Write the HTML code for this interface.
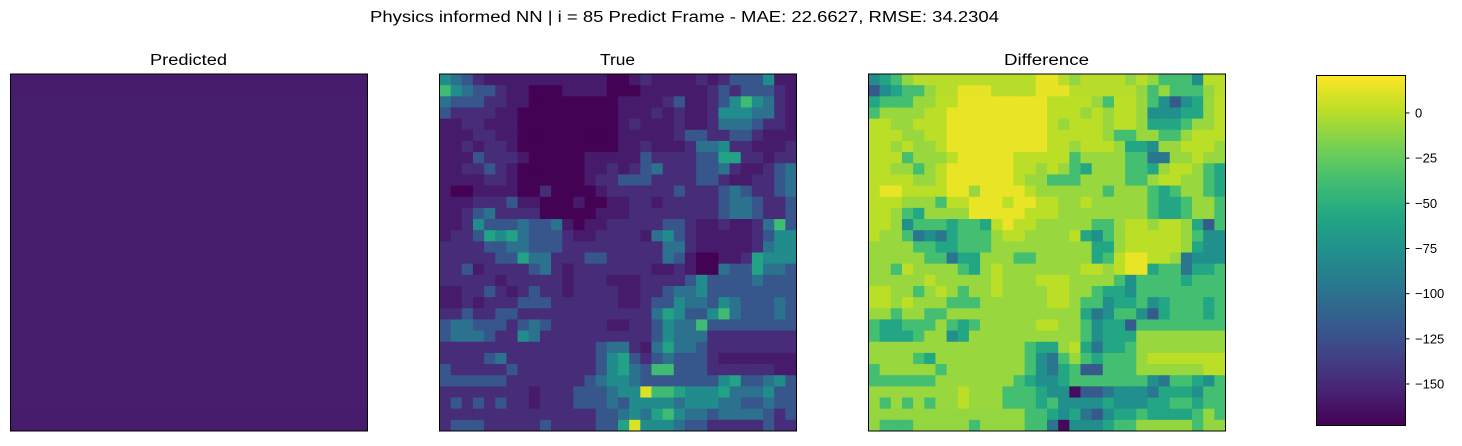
<!DOCTYPE html>
<html><head><meta charset="utf-8">
<style>
body{margin:0;background:#fff;width:1462px;height:441px;overflow:hidden;font-family:"Liberation Sans",sans-serif;}
</style></head>
<body>
<svg id="fig" width="1462" height="441" xmlns="http://www.w3.org/2000/svg">
<text x="370" y="22" font-size="15.5" textLength="629" lengthAdjust="spacingAndGlyphs" fill="#000">Physics informed NN | i = 85 Predict Frame - MAE: 22.6627, RMSE: 34.2304</text>
<text x="150" y="65" font-size="15.5" textLength="77" lengthAdjust="spacingAndGlyphs">Predicted</text>
<text x="600" y="65" font-size="15.5" textLength="35" lengthAdjust="spacingAndGlyphs">True</text>
<text x="1004" y="65" font-size="15.5" textLength="85" lengthAdjust="spacingAndGlyphs">Difference</text>
<g id="panels"></g>
<g id="cbar"></g>
</svg>
<script>
const vmin = -172.7, vmax = 21;
const cbarTicks = [0, -25, -50, -75, -100, -125, -150];
const predRow = [-158,-158,-157,-157,-157,-157,-157,-157,-157,-157,-157,-157,-157,-157,-157,-157,-157,-157,-157,-157,-157,-157,-157,-157,-157,-157,-157,-157,-157,-157,-158,-158];
const trueVals = [
[-80,-100,-120,-148,-158,-158,-158,-158,-158,-158,-158,-158,-158,-158,-158,-172,-172,-158,-148,-158,-158,-158,-158,-148,-158,-148,-120,-120,-120,-80,-158,-158],
[-40,-80,-100,-120,-120,-148,-158,-158,-172,-172,-172,-158,-158,-158,-158,-172,-172,-172,-158,-158,-158,-158,-158,-158,-148,-120,-148,-120,-120,-120,-148,-158],
[-100,-120,-120,-120,-148,-148,-158,-158,-172,-172,-172,-172,-172,-172,-172,-172,-158,-158,-158,-158,-148,-120,-158,-158,-148,-120,-80,-40,-80,-100,-148,-158],
[-120,-148,-148,-148,-148,-158,-158,-172,-172,-172,-172,-172,-172,-172,-172,-172,-158,-158,-158,-148,-158,-148,-158,-158,-148,-80,-80,-80,-100,-100,-148,-158],
[-158,-158,-148,-148,-158,-158,-158,-172,-172,-172,-172,-172,-172,-172,-172,-172,-158,-148,-158,-158,-158,-148,-158,-158,-148,-100,-100,-100,-120,-148,-148,-158],
[-158,-158,-158,-148,-148,-158,-158,-172,-172,-172,-172,-172,-172,-172,-172,-172,-158,-158,-158,-158,-158,-148,-120,-120,-148,-148,-120,-120,-148,-158,-158,-158],
[-158,-158,-148,-158,-148,-148,-158,-172,-172,-172,-172,-172,-172,-172,-172,-172,-158,-158,-148,-158,-158,-158,-148,-100,-100,-80,-148,-148,-158,-158,-158,-148],
[-158,-158,-158,-120,-148,-148,-148,-158,-172,-172,-172,-172,-172,-158,-158,-158,-158,-158,-120,-148,-148,-148,-148,-120,-120,-60,-60,-148,-148,-158,-148,-148],
[-158,-158,-148,-148,-120,-148,-158,-172,-172,-172,-172,-172,-172,-158,-158,-148,-158,-148,-120,-100,-148,-148,-148,-120,-120,-100,-148,-158,-158,-148,-120,-100],
[-158,-158,-158,-158,-148,-148,-158,-172,-172,-172,-172,-172,-172,-158,-148,-148,-120,-120,-120,-148,-148,-148,-148,-120,-120,-148,-158,-158,-148,-148,-120,-100],
[-158,-172,-172,-158,-158,-158,-158,-172,-172,-148,-172,-172,-172,-172,-158,-148,-148,-148,-148,-148,-148,-120,-148,-148,-148,-120,-100,-120,-148,-148,-120,-100],
[-158,-158,-158,-148,-148,-148,-120,-158,-158,-172,-172,-172,-158,-172,-172,-158,-158,-148,-148,-158,-148,-148,-148,-148,-148,-120,-100,-100,-120,-148,-148,-120],
[-158,-158,-148,-120,-100,-148,-148,-148,-148,-172,-172,-172,-172,-172,-158,-158,-158,-148,-148,-148,-148,-148,-148,-148,-148,-120,-100,-100,-120,-148,-148,-120],
[-158,-158,-148,-80,-120,-120,-120,-100,-120,-120,-100,-158,-172,-158,-158,-148,-148,-148,-148,-148,-120,-120,-148,-158,-158,-148,-158,-158,-148,-100,-40,-120],
[-158,-148,-148,-120,-60,-80,-60,-100,-120,-120,-120,-148,-158,-158,-148,-148,-148,-148,-158,-100,-80,-120,-148,-158,-158,-158,-158,-158,-148,-120,-80,-80],
[-148,-148,-148,-148,-120,-120,-100,-100,-120,-120,-120,-148,-148,-148,-148,-148,-148,-148,-148,-148,-100,-100,-148,-158,-158,-158,-158,-158,-148,-100,-80,-80],
[-148,-148,-148,-148,-148,-120,-120,-60,-100,-100,-148,-148,-148,-120,-120,-148,-148,-148,-148,-148,-100,-120,-158,-172,-172,-158,-158,-148,-60,-80,-80,-80],
[-148,-148,-120,-158,-148,-148,-148,-148,-120,-100,-148,-158,-148,-148,-148,-148,-148,-148,-148,-158,-158,-148,-158,-172,-172,-100,-120,-120,-60,-100,-100,-120],
[-148,-148,-148,-148,-148,-158,-148,-148,-148,-148,-148,-158,-148,-148,-148,-158,-158,-158,-148,-148,-148,-148,-120,-80,-120,-120,-120,-120,-100,-120,-120,-120],
[-158,-158,-148,-148,-120,-148,-158,-148,-120,-148,-148,-158,-148,-148,-148,-148,-158,-158,-148,-148,-120,-100,-100,-80,-120,-120,-120,-120,-120,-120,-120,-120],
[-158,-158,-148,-158,-148,-148,-148,-120,-120,-120,-148,-148,-148,-148,-148,-148,-158,-158,-148,-120,-120,-80,-100,-100,-120,-80,-100,-120,-120,-120,-100,-120],
[-148,-148,-120,-148,-148,-120,-120,-148,-148,-148,-148,-148,-148,-148,-148,-148,-148,-148,-148,-100,-60,-80,-120,-120,-80,-40,-100,-120,-120,-120,-100,-120],
[-120,-100,-100,-120,-120,-120,-148,-120,-100,-120,-148,-148,-148,-148,-148,-158,-158,-148,-148,-120,-80,-100,-100,-40,-120,-120,-120,-120,-120,-120,-120,-120],
[-120,-100,-100,-100,-120,-148,-148,-80,-100,-148,-148,-148,-148,-148,-148,-148,-148,-148,-148,-120,-80,-100,-100,-100,-148,-148,-148,-148,-148,-148,-148,-148],
[-148,-148,-148,-148,-148,-148,-148,-148,-148,-148,-148,-148,-148,-148,-120,-100,-100,-148,-158,-100,-60,-100,-100,-120,-148,-148,-148,-148,-148,-148,-148,-148],
[-148,-148,-148,-148,-120,-100,-148,-148,-148,-148,-148,-148,-148,-148,-120,-80,-60,-120,-148,-120,-100,-120,-120,-120,-148,-158,-158,-158,-158,-158,-158,-158],
[-120,-148,-148,-148,-148,-148,-120,-148,-148,-148,-148,-148,-148,-148,-120,-80,-60,-100,-120,-40,-40,-120,-120,-120,-148,-148,-148,-148,-148,-148,-158,-158],
[-120,-120,-120,-120,-120,-120,-148,-148,-148,-148,-148,-148,-148,-120,-100,-80,-80,-100,-120,-120,-120,-120,-120,-120,-120,-80,-60,-120,-120,-100,-80,-120],
[-148,-148,-148,-148,-148,-148,-148,-148,-158,-148,-148,-148,-120,-120,-120,-100,-80,-80,10,-40,-40,-60,-80,-80,-80,-60,-100,-100,-100,-80,-120,-120],
[-148,-120,-148,-120,-148,-120,-148,-148,-158,-148,-148,-148,-120,-120,-120,-100,-120,-80,-80,-80,-80,-100,-80,-80,-80,-100,-100,-120,-120,-100,-120,-120],
[-148,-148,-148,-148,-148,-148,-148,-148,-148,-148,-148,-148,-148,-148,-120,-120,-100,-80,-100,-60,-40,-80,-100,-100,-120,-100,-100,-100,-100,-120,-148,-120],
[-148,-120,-120,-120,-148,-148,-148,-148,-148,-120,-148,-148,-148,-148,-120,-120,-60,10,-80,-80,-80,-100,-120,-120,-148,-148,-148,-148,-148,-120,-148,-148]
];
const VIR=[[68,1,84],[72,35,116],[64,67,135],[52,94,141],[41,120,142],[32,144,140],[34,167,132],[68,190,112],[121,209,81],[189,222,38],[253,231,37]];
function cmap(v){let t=(v-vmin)/(vmax-vmin);t=Math.max(0,Math.min(1,t))*10;const i=Math.min(9,Math.floor(t)),f=t-i;const a=VIR[i],b=VIR[i+1];return`rgb(${Math.round(a[0]+(b[0]-a[0])*f)},${Math.round(a[1]+(b[1]-a[1])*f)},${Math.round(a[2]+(b[2]-a[2])*f)})`;}
const NS='http://www.w3.org/2000/svg';
const panels=document.getElementById('panels');
const size=357, top0=74;
function drawPanel(x0,name,valFn){
  const g=document.createElementNS(NS,'g');
  
  
  const n=trueVals.length, cs=size/n;
  for(let r=0;r<n;r++)for(let c=0;c<trueVals[r].length;c++){
    const re=document.createElementNS(NS,'rect');
    re.setAttribute('x',(x0+c*cs).toFixed(2));re.setAttribute('y',(top0+r*cs).toFixed(2));
    re.setAttribute('width',(cs+0.5).toFixed(2));re.setAttribute('height',(cs+0.5).toFixed(2));
    re.setAttribute('fill',cmap(valFn(r,c)));
    
    
    g.appendChild(re);
  }
  const fr=document.createElementNS(NS,'rect');
  fr.setAttribute('x',x0);fr.setAttribute('y',top0);fr.setAttribute('width',size);fr.setAttribute('height',size);
  fr.setAttribute('fill','none');fr.setAttribute('stroke','#000');fr.setAttribute('stroke-width','1');
  
  
  g.appendChild(fr);
  panels.appendChild(g);
}
drawPanel(10.5,'predicted-heatmap',(r,c)=>predRow[r]);
drawPanel(439.5,'true-heatmap',(r,c)=>trueVals[r][c]);
drawPanel(868.5,'difference-heatmap',(r,c)=>predRow[r]-trueVals[r][c]);
const cb=document.getElementById('cbar');
const cbx=1316,cby=75,cbw=89,cbh=350;
const ys=v=>cby+(vmax-v)/(vmax-vmin)*cbh;
for(let i=0;i<175;i++){
  const v=vmax-(i+0.5)/175*(vmax-vmin);
  const re=document.createElementNS(NS,'rect');
  re.setAttribute('x',cbx);re.setAttribute('y',(cby+i*cbh/175).toFixed(2));re.setAttribute('width',cbw);re.setAttribute('height',(cbh/175+0.6).toFixed(2));
  re.setAttribute('fill',cmap(v));
  
  
  cb.appendChild(re);
}
const cf=document.createElementNS(NS,'rect');
cf.setAttribute('x',cbx+0.5);cf.setAttribute('y',cby+0.5);cf.setAttribute('width',cbw);cf.setAttribute('height',cbh);cf.setAttribute('fill','none');cf.setAttribute('stroke','#000');


cb.appendChild(cf);
cbarTicks.forEach(t=>{
  const y=ys(t);
  const l=document.createElementNS(NS,'line');
  l.setAttribute('x1',cbx+cbw+0.5);l.setAttribute('x2',cbx+cbw+4.5);l.setAttribute('y1',y);l.setAttribute('y2',y);l.setAttribute('stroke','#000');
  
  
  cb.appendChild(l);
  const tx=document.createElementNS(NS,'text');
  tx.setAttribute('x',cbx+cbw+10);tx.setAttribute('y',y+4.5);tx.setAttribute('font-size','13');
  tx.textContent=t<0?'\u2212'+Math.abs(t):String(t);
  
  
  cb.appendChild(tx);
});
</script>
</body></html>
